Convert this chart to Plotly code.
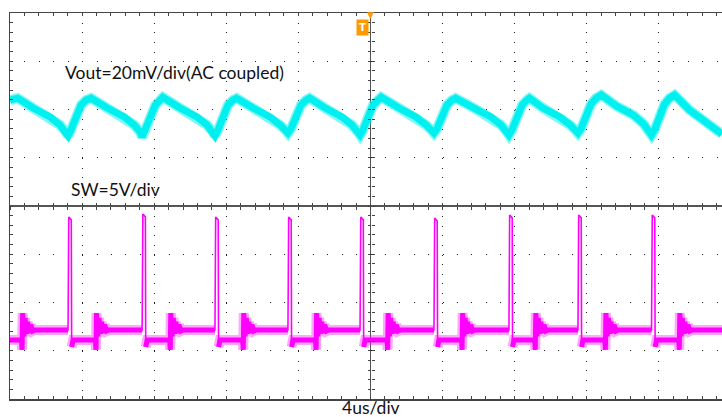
import plotly.graph_objects as go

# ---------------- data ----------------
# time in microseconds relative to the trigger (screen centre), 4 us/div
T_RANGE = [-20.0, 19.5]

# Vout, AC coupled, 20 mV/div
vout_time = [
    -20.00, -19.58,
    -18.72, -17.78, -17.23, -16.89, -16.78, -16.62, -16.34, -16.06, -15.78, -15.50,
    -14.61, -13.66, -13.11, -12.78, -12.67, -12.50, -12.22, -11.94, -11.67, -11.52,
    -10.57, -9.63, -9.07, -8.74, -8.63, -8.46, -8.18, -7.91, -7.63, -7.43,
    -6.52, -5.58, -5.02, -4.69, -4.58, -4.41, -4.13, -3.86, -3.58, -3.38,
    -2.52, -1.58, -1.03, -0.69, -0.58, -0.42, -0.14, 0.14, 0.42, 0.59,
    1.58, 2.52, 3.08, 3.41, 3.52, 3.69, 3.97, 4.24, 4.52, 4.72,
    5.74, 6.69, 7.24, 7.57, 7.68, 7.85, 8.13, 8.41, 8.68, 8.82,
    9.57, 10.51, 11.07, 11.40, 11.51, 11.68, 11.96, 12.23, 12.51, 12.80,
    13.65, 14.59, 15.15, 15.48, 15.59, 15.76, 16.03, 16.31, 16.59, 16.87,
    17.70, 18.25, 18.92, 19.50,
]
vout_mv = [
    7.9, 8.7,
    4.6, 0.9, -2.4, -5.3, -7.0, -4.5, 1.7, 5.8, 7.9, 8.7,
    4.6, 0.9, -2.4, -5.3, -7.4, -4.5, 1.7, 5.8, 7.9, 9.1,
    4.6, 0.9, -2.4, -5.3, -7.0, -4.5, 1.7, 5.8, 7.9, 8.7,
    4.6, 0.9, -2.4, -4.8, -5.8, -4.0, 1.7, 5.8, 7.9, 8.7,
    4.6, 0.9, -2.4, -5.3, -6.6, -4.5, 1.7, 5.8, 7.9, 9.1,
    4.6, 0.9, -2.4, -4.8, -5.8, -4.0, 1.7, 5.8, 7.9, 8.7,
    4.6, 0.9, -2.4, -5.3, -6.6, -4.5, 1.7, 5.8, 7.9, 8.7,
    4.6, 0.9, -2.4, -4.8, -5.8, -4.0, 1.7, 6.2, 8.7, 10.0,
    5.4, 1.7, -2.0, -5.3, -6.6, -4.5, 1.7, 6.2, 8.7, 10.0,
    3.8, 0.5, -2.9, -6.2,
]

# SW node, 5 V/div
sw_time = [
    -20.00,
    -19.36, -19.33, -19.30, -19.23, -19.16, -19.09, -19.02, -18.94, -18.85, -18.74, -18.62,
    -16.78, -16.77, -16.74, -16.60, -16.58, -16.50,
    -15.26, -15.23, -15.20, -15.13, -15.06, -14.99, -14.92, -14.84, -14.75, -14.64, -14.52,
    -12.67, -12.66, -12.63, -12.49, -12.47, -12.39,
    -11.14, -11.11, -11.08, -11.01, -10.94, -10.87, -10.80, -10.72, -10.63, -10.52, -10.40,
    -8.63, -8.62, -8.59, -8.45, -8.43, -8.35,
    -7.09, -7.06, -7.03, -6.96, -6.89, -6.82, -6.75, -6.67, -6.58, -6.47, -6.35,
    -4.58, -4.57, -4.54, -4.40, -4.38, -4.30,
    -3.05, -3.02, -2.99, -2.92, -2.85, -2.78, -2.71, -2.63, -2.54, -2.43, -2.31,
    -0.58, -0.57, -0.54, -0.40, -0.38, -0.30,
    0.92, 0.95, 0.98, 1.05, 1.12, 1.19, 1.26, 1.34, 1.43, 1.54, 1.66,
    3.52, 3.53, 3.56, 3.70, 3.72, 3.80,
    5.05, 5.08, 5.11, 5.18, 5.25, 5.32, 5.39, 5.47, 5.56, 5.67, 5.79,
    7.68, 7.69, 7.72, 7.86, 7.88, 7.96,
    9.11, 9.14, 9.17, 9.24, 9.31, 9.38, 9.45, 9.53, 9.62, 9.73, 9.85,
    11.51, 11.52, 11.55, 11.69, 11.71, 11.79,
    13.00, 13.03, 13.06, 13.13, 13.20, 13.27, 13.34, 13.42, 13.51, 13.62, 13.74,
    15.59, 15.60, 15.63, 15.77, 15.79, 15.87,
    17.10, 17.13, 17.16, 17.23, 17.30, 17.37, 17.44, 17.52, 17.61, 17.72, 17.84,
    19.50,
]
sw_volt = [
    0.12,
    0.12, -0.9, 2.9, 0.5, 2.4, 0.75, 2.0, 0.85, 1.7, 1.05, 1.16,
    1.16, 8.6, 12.86, 12.56, -0.6, 0.12,
    0.12, -0.9, 2.9, 0.5, 2.4, 0.75, 2.0, 0.85, 1.7, 1.05, 1.16,
    1.16, 8.6, 13.17, 12.87, -0.6, 0.12,
    0.12, -0.9, 2.9, 0.5, 2.4, 0.75, 2.0, 0.85, 1.7, 1.05, 1.16,
    1.16, 8.6, 12.86, 12.56, -0.6, 0.12,
    0.12, -0.9, 2.9, 0.5, 2.4, 0.75, 2.0, 0.85, 1.7, 1.05, 1.16,
    1.16, 8.6, 12.86, 12.56, -0.6, 0.12,
    0.12, -0.9, 2.9, 0.5, 2.4, 0.75, 2.0, 0.85, 1.7, 1.05, 1.16,
    1.16, 8.6, 12.86, 12.56, -0.6, 0.12,
    0.12, -0.9, 2.9, 0.5, 2.4, 0.75, 2.0, 0.85, 1.7, 1.05, 1.16,
    1.16, 8.6, 12.75, 12.45, -0.6, 0.12,
    0.12, -0.9, 2.9, 0.5, 2.4, 0.75, 2.0, 0.85, 1.7, 1.05, 1.16,
    1.16, 8.6, 13.07, 12.77, -0.6, 0.12,
    0.12, -0.9, 2.9, 0.5, 2.4, 0.75, 2.0, 0.85, 1.7, 1.05, 1.16,
    1.16, 8.6, 13.07, 12.77, -0.6, 0.12,
    0.12, -0.9, 2.9, 0.5, 2.4, 0.75, 2.0, 0.85, 1.7, 1.05, 1.16,
    1.16, 8.6, 13.07, 12.77, -0.6, 0.12,
    0.12, -0.9, 2.9, 0.5, 2.4, 0.75, 2.0, 0.85, 1.7, 1.05, 1.16,
    1.16,
]

# channel scales (8 vertical divisions on screen)
VOUT_RANGE = [-116, 44]   # 20 mV/div
SW_RANGE = [-6, 34]       # 5 V/div

labels = {
    "vout": "Vout=20mV/div(AC coupled)",
    "sw": "SW=5V/div",
    "time": "4us/div",
}

# ---------------- styling ----------------
CYAN = "rgb(0,240,240)"
CYAN_FR = "rgba(0,240,240,0.5)"
MAG = "rgb(255,0,255)"
MAG_FR = "rgba(255,0,255,0.35)"
GRID = "#222222"
FRAME = "#444444"
FONT = "Lato, 'Open Sans', sans-serif"

sw_band = [v if v < 4 else None for v in sw_volt]

fig = go.Figure()

# dummy traces so every helper axis gets drawn
for xa, ya in [("x", "y"), ("x2", "y"), ("x3", "y"), ("x", "y4"), ("x", "y5")]:
    fig.add_trace(go.Scatter(x=[None], y=[None], xaxis=xa, yaxis=ya,
                             mode="lines", hoverinfo="skip", showlegend=False))

# Vout trace (noise fringe + core)
fig.add_trace(go.Scatter(x=vout_time, y=vout_mv, xaxis="x", yaxis="y2", mode="lines",
                         line=dict(color=CYAN_FR, width=10), hoverinfo="skip", showlegend=False))
fig.add_trace(go.Scatter(x=vout_time, y=vout_mv, xaxis="x", yaxis="y2", mode="lines",
                         line=dict(color=CYAN, width=7), showlegend=False))

# SW trace: noisy band on the flat parts + thin full path
fig.add_trace(go.Scatter(x=sw_time, y=sw_band, xaxis="x", yaxis="y3", mode="lines",
                         line=dict(color=MAG_FR, width=10), connectgaps=False,
                         hoverinfo="skip", showlegend=False))
fig.add_trace(go.Scatter(x=sw_time, y=sw_band, xaxis="x", yaxis="y3", mode="lines",
                         line=dict(color=MAG, width=5), connectgaps=False,
                         hoverinfo="skip", showlegend=False))
fig.add_trace(go.Scatter(x=sw_time, y=sw_volt, xaxis="x", yaxis="y3", mode="lines",
                         line=dict(color=MAG, width=1.6), showlegend=False))

center_x = (0 - T_RANGE[0]) / (T_RANGE[1] - T_RANGE[0])

common_x = dict(range=T_RANGE, dtick=4, tick0=0, showticklabels=False, fixedrange=True)

fig.update_layout(
    width=722, height=417,
    margin=dict(l=10, r=0, t=13, b=18),
    paper_bgcolor="white", plot_bgcolor="white",
    showlegend=False,
    hovermode=False,
    xaxis=dict(**common_x, showgrid=True, gridcolor=GRID, gridwidth=1,
               griddash="1px,8.66px",
               zeroline=True, zerolinecolor="#555555", zerolinewidth=1.5,
               showline=True, linecolor=FRAME, linewidth=1.5, mirror="ticks",
               ticks="inside", ticklen=3, tickcolor=FRAME,
               minor=dict(dtick=0.8, ticks="inside", ticklen=3, tickcolor=FRAME, showgrid=False)),
    xaxis2=dict(**common_x, overlaying="x", anchor="free", position=0.5,
                showgrid=False, zeroline=False, showline=False,
                ticks="outside", ticklen=3, tickcolor="#444444",
                minor=dict(dtick=0.8, ticks="outside", ticklen=3, tickcolor="#444444")),
    xaxis3=dict(**common_x, overlaying="x", anchor="free", position=0.5,
                showgrid=False, zeroline=False, showline=False,
                ticks="inside", ticklen=3, tickcolor="#444444",
                minor=dict(dtick=0.8, ticks="inside", ticklen=3, tickcolor="#444444")),
    yaxis=dict(range=[-4, 4], dtick=1, tick0=0, showticklabels=False, fixedrange=True,
               showgrid=True, gridcolor=GRID, gridwidth=1, griddash="1px,13.42px",
               zeroline=True, zerolinecolor="#555555", zerolinewidth=1.5,
               showline=True, linecolor=FRAME, linewidth=1.5,
               ticks="inside", ticklen=3, tickcolor=FRAME,
               minor=dict(dtick=0.2, ticks="inside", ticklen=3, tickcolor=FRAME, showgrid=False)),
    yaxis2=dict(range=VOUT_RANGE, overlaying="y", anchor="x", visible=False, fixedrange=True),
    yaxis3=dict(range=SW_RANGE, overlaying="y", anchor="x", visible=False, fixedrange=True),
    yaxis4=dict(range=[-4, 4], dtick=1, tick0=0, overlaying="y", anchor="free",
                position=center_x, showticklabels=False, showgrid=False, zeroline=False,
                showline=False, ticks="outside", ticklen=3, tickcolor="#444444",
                minor=dict(dtick=0.2, ticks="outside", ticklen=3, tickcolor="#444444")),
    yaxis5=dict(range=[-4, 4], dtick=1, tick0=0, overlaying="y", anchor="free",
                position=center_x, showticklabels=False, showgrid=False, zeroline=False,
                showline=False, ticks="inside", ticklen=3, tickcolor="#444444",
                minor=dict(dtick=0.2, ticks="inside", ticklen=3, tickcolor="#444444")),
)

ann_font = dict(family=FONT, size=17.5, color="#111111")
fig.add_annotation(text=labels["vout"], xref="paper", yref="paper", x=0.0744, y=0.8446,
                   xanchor="left", yanchor="middle", showarrow=False, font=ann_font)
fig.add_annotation(text=labels["sw"], xref="paper", yref="paper", x=0.0829, y=0.5415,
                   xanchor="left", yanchor="middle", showarrow=False, font=ann_font)
fig.add_annotation(text=labels["time"], xref="paper", yref="paper", x=center_x, y=-0.0233,
                   xanchor="center", yanchor="middle", showarrow=False, font=ann_font)
# trigger marker
fig.add_annotation(text="<b>T</b>", xref="paper", yref="paper", x=0.4944, y=0.9637,
                   xanchor="center", yanchor="middle", showarrow=False,
                   font=dict(family="DejaVu Sans", size=10, color="white"),
                   bgcolor="#FF9900", borderpad=2)
fig.add_annotation(text="▼", xref="paper", yref="paper", x=center_x, y=0.9948,
                   xanchor="center", yanchor="middle", showarrow=False,
                   font=dict(family="DejaVu Sans", size=9, color="#FF9900"))

# remove the default page margin so the figure fills the window exactly
fig.write_html("out.html",
               config={"displayModeBar": False, "staticPlot": True},
               post_script="document.body.style.margin='0';document.body.style.overflow='hidden';")
